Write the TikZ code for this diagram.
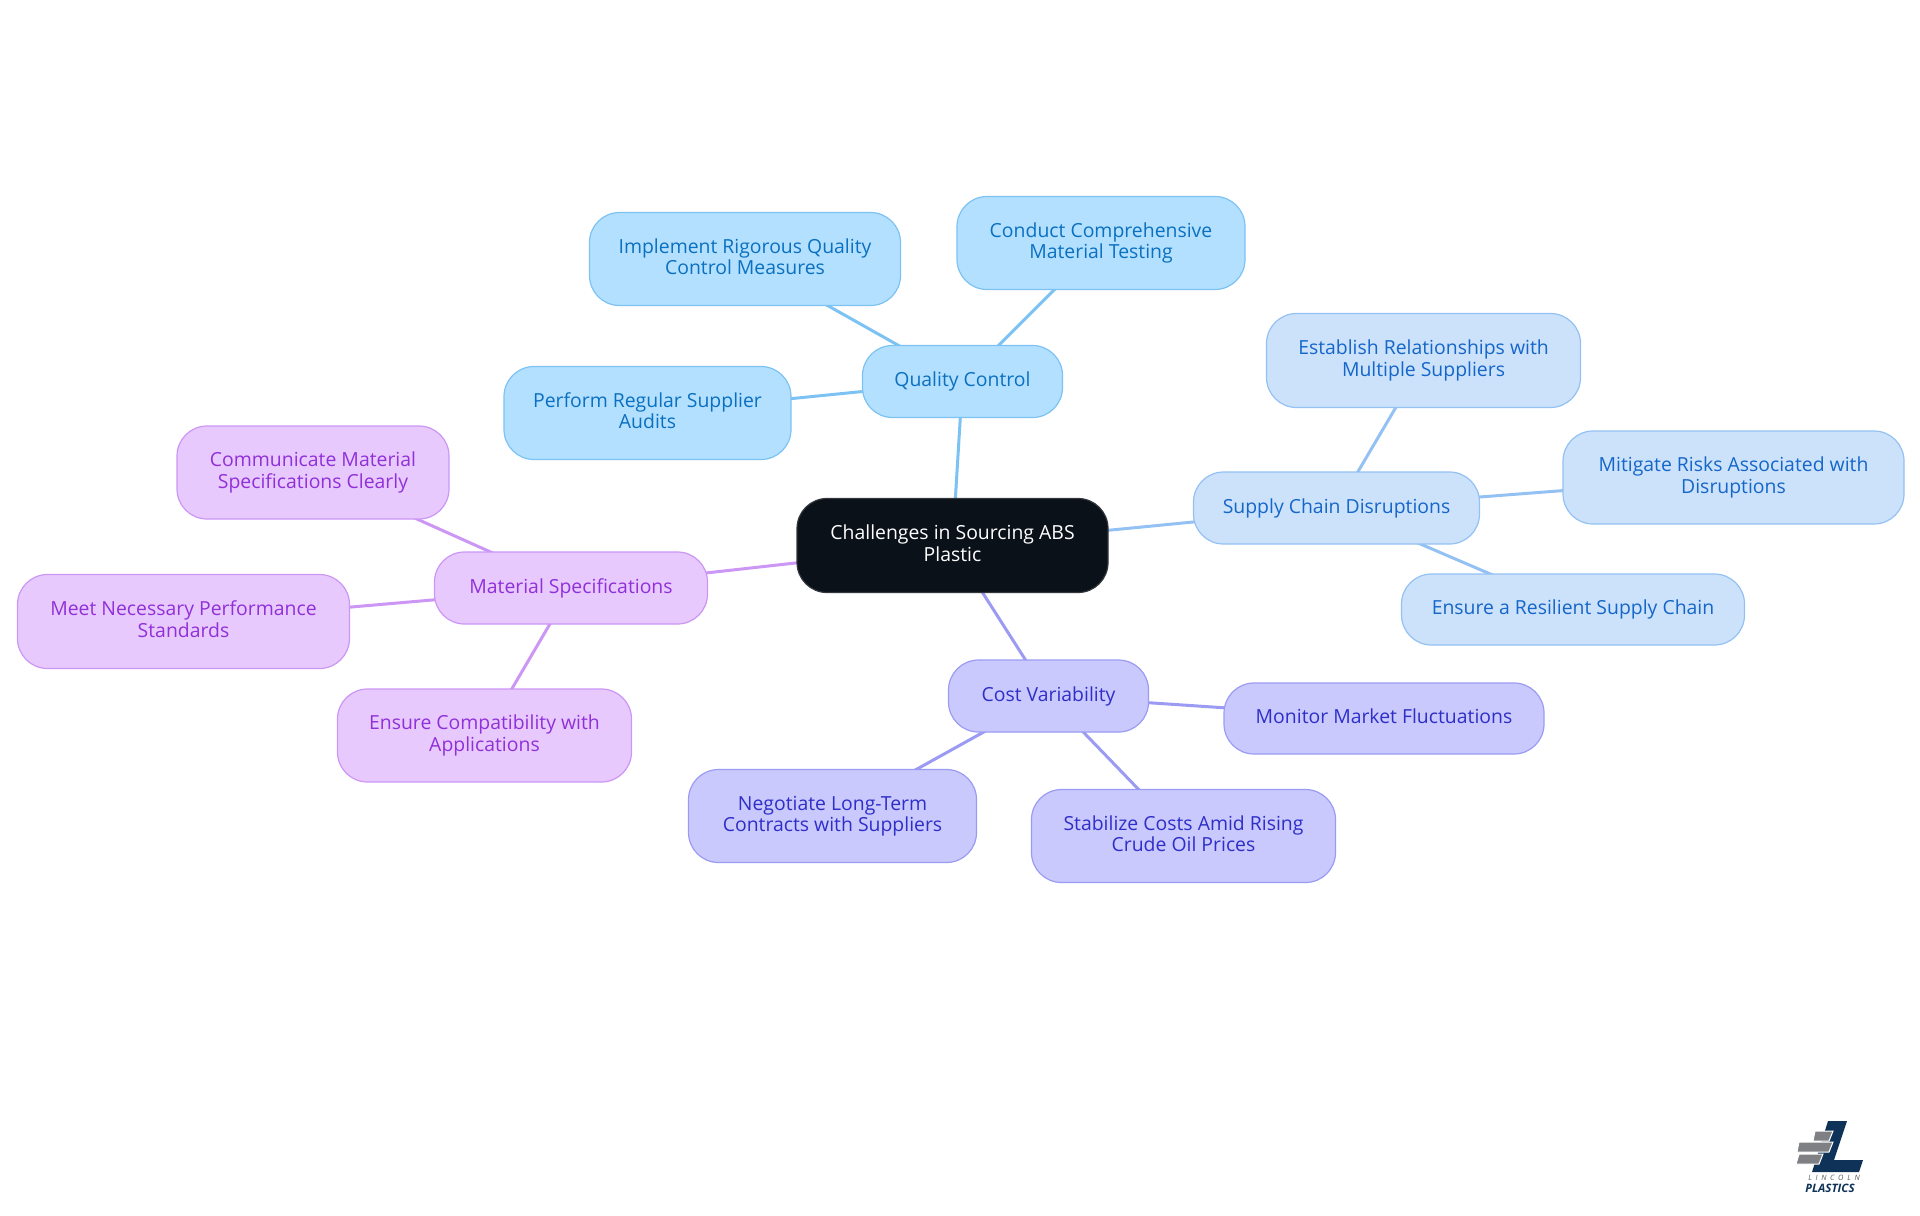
\documentclass[tikz,border=0pt]{standalone}
\usepackage{fontspec}
\setmainfont{Open Sans}
\usetikzlibrary{backgrounds}
\definecolor{rootfill}{HTML}{0B1119}
\definecolor{rootline}{HTML}{33373C}
\definecolor{qcfill}{HTML}{B4E0FF}
\definecolor{qcline}{HTML}{7CC2F3}
\definecolor{qctext}{HTML}{0A70C0}
\definecolor{scfill}{HTML}{CCE2FB}
\definecolor{scline}{HTML}{93C1F3}
\definecolor{sctext}{HTML}{1566C9}
\definecolor{cvfill}{HTML}{C9C9FE}
\definecolor{cvline}{HTML}{9B9BF3}
\definecolor{cvtext}{HTML}{2F2FC8}
\definecolor{msfill}{HTML}{E8C9FE}
\definecolor{msline}{HTML}{CC96F5}
\definecolor{mstext}{HTML}{9030D8}
\definecolor{logoblue}{HTML}{0F3358}
\definecolor{logogray}{HTML}{7F8083}
\tikzset{
	mapbox/.style={rounded corners=15pt, inner sep=0pt, line width=0.6pt, align=center, text depth=2.3pt,
		font=\fontsize{9.7}{10.7}\selectfont},
	rootbox/.style={mapbox, draw=rootline, fill=rootfill, text=white},
	qcbox/.style={mapbox, draw=qcline, fill=qcfill, text=qctext},
	scbox/.style={mapbox, draw=scline, fill=scfill, text=sctext},
	cvbox/.style={mapbox, draw=cvline, fill=cvfill, text=cvtext},
	msbox/.style={mapbox, draw=msline, fill=msfill, text=mstext},
	qcedge/.style={color=qcline, line width=1.5pt},
	scedge/.style={color=scline, line width=1.5pt},
	cvedge/.style={color=cvline, line width=1.5pt},
	msedge/.style={color=msline, line width=1.5pt},
	brick/.style={fill=logogray, draw=white, line width=0.5pt},
}
\begin{document}
\begin{tikzpicture}[x=0.5pt, y=-0.5pt]
	\useasboundingbox (0,0) rectangle (1920,1215);
	\node[rootbox, minimum width=155.5pt, minimum height=47pt] (root) at (952.5,545.5) {Challenges in Sourcing ABS\\Plastic};

	\node[qcbox, minimum width=100pt, minimum height=36pt] (qc) at (962.5,381.5) {Quality Control};
	\node[qcbox, minimum width=155.5pt, minimum height=46.5pt] (qc1) at (745,259) {Implement Rigorous Quality\\Control Measures};
	\node[qcbox, minimum width=144pt, minimum height=46.5pt] (qc2) at (1101,243) {Conduct Comprehensive\\Material Testing};
	\node[qcbox, minimum width=143.5pt, minimum height=46.5pt] (qc3) at (647.5,413) {Perform Regular Supplier\\Audits};

	\node[scbox, minimum width=143pt, minimum height=36pt] (sc) at (1336.5,508) {Supply Chain Disruptions};
	\node[scbox, minimum width=157pt, minimum height=47pt] (sc1) at (1423.5,360.5) {Establish Relationships with\\Multiple Suppliers};
	\node[scbox, minimum width=170.5pt, minimum height=46.5pt] (sc2) at (1733.5,477.5) {Mitigate Risks Associated with\\Disruptions};
	\node[scbox, minimum width=171.5pt, minimum height=35.5pt] (sc3) at (1573,609.5) {Ensure a Resilient Supply Chain};

	\node[cvbox, minimum width=100pt, minimum height=36pt] (cv) at (1048.5,696) {Cost Variability};
	\node[cvbox, minimum width=160pt, minimum height=35.5pt] (cv1) at (1384,718.5) {Monitor Market Fluctuations};
	\node[cvbox, minimum width=144pt, minimum height=46.5pt] (cv2) at (832.5,816) {Negotiate Long-Term\\Contracts with Suppliers};
	\node[cvbox, minimum width=152pt, minimum height=46.5pt] (cv3) at (1183.5,836) {Stabilize Costs Amid Rising\\Crude Oil Prices};

	\node[msbox, minimum width=136.5pt, minimum height=36pt] (ms) at (571,588) {Material Specifications};
	\node[msbox, minimum width=136pt, minimum height=46.5pt] (ms1) at (313,472.5) {Communicate Material\\Specifications Clearly};
	\node[msbox, minimum width=166pt, minimum height=47pt] (ms2) at (183.5,621.5) {Meet Necessary Performance\\Standards};
	\node[msbox, minimum width=147pt, minimum height=46.5pt] (ms3) at (484.5,735.5) {Ensure Compatibility with\\Applications};

	\begin{scope}[on background layer]
		\draw[qcedge] (root.center) -- (qc.center);
		\draw[qcedge] (qc.center) -- (qc1.center);
		\draw[qcedge] (qc.center) -- (qc2.center);
		\draw[qcedge] (qc.center) -- (qc3.center);
		\draw[scedge] (root.center) -- (sc.center);
		\draw[scedge] (sc.center) -- (sc1.center);
		\draw[scedge] (sc.center) -- (sc2.center);
		\draw[scedge] (sc.center) -- (sc3.center);
		\draw[cvedge] (root.center) -- (cv.center);
		\draw[cvedge] (cv.center) -- (cv1.center);
		\draw[cvedge] (cv.center) -- (cv2.center);
		\draw[cvedge] (cv.center) -- (cv3.center);
		\draw[msedge] (root.center) -- (ms.center);
		\draw[msedge] (ms.center) -- (ms1.center);
		\draw[msedge] (ms.center) -- (ms2.center);
		\draw[msedge] (ms.center) -- (ms3.center);
	\end{scope}

	% logo
	\fill[logoblue] (1828,1121) -- (1847,1121) -- (1834,1160) -- (1863,1160) -- (1859,1172) -- (1812,1172) -- cycle;
	\draw[brick] (1815,1131) -- (1833,1131) -- (1829,1141) -- (1813,1141) -- cycle;
	\draw[brick] (1799,1142) -- (1833,1142) -- (1829,1152) -- (1797,1152) -- cycle;
	\draw[brick] (1799,1154) -- (1823,1154) -- (1819,1164) -- (1796,1164) -- cycle;
	\node[text=logogray!70!black, inner sep=0pt, font=\fontsize{3.7}{4}\selectfont\itshape] (logotop) at (1834,1178) {L\,\,\,I\,\,\,N\,\,\,C\,\,\,O\,\,\,L\,\,\,N};
	\node[text=logoblue, inner sep=0pt, font=\fontsize{5.8}{6}\selectfont\bfseries\itshape] (logobottom) at (1830,1188.5) {PLASTICS};
\end{tikzpicture}
\end{document}
